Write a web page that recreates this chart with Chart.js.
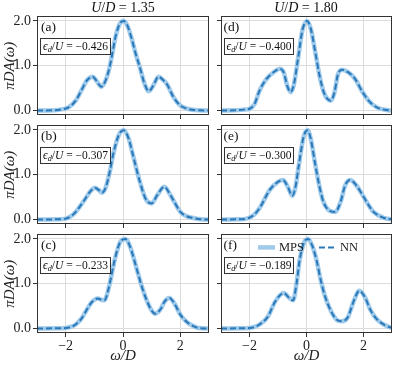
<!DOCTYPE html>
<html>
<head>
<meta charset="utf-8">
<script src="https://cdn.jsdelivr.net/npm/chart.js@4.4.1/dist/chart.umd.min.js"></script>
<style>
  html, body { margin: 0; padding: 0; background: #fff; }
  #fig { position: relative; width: 396px; height: 367px; overflow: hidden;
         font-family: "Liberation Serif", "Times New Roman", serif; color: #111; }
  #fig canvas { position: absolute; }
  .txt   { position: absolute; white-space: nowrap; line-height: 1; }
  .title { font-size: 14px; transform: translateX(-50%); }
  .tag   { font-size: 13.5px; }
  .box   { border: 1px solid #333; background: #fff; font-size: 11.5px;
           height: 15px; line-height: 15px; padding: 0 2px; }
  .box sub { font-size: 0.72em; line-height: 0; vertical-align: -0.3em; }
</style>
</head>
<body>
<div id="fig"></div>
<script>
// ─── Data ────────────────────────────────────────────────────────────────────
const X_TICKS   = [-2, 0, 2];
const Y_TICKS   = [0, 1, 2];
const SERIES    = ["MPS", "NN"];
const U_VALUES  = [1.35, 1.80];
const TAGS      = ["(a)", "(b)", "(c)", "(d)", "(e)", "(f)"];
const EPS_OVER_U = [-0.426, -0.307, -0.233, -0.400, -0.300, -0.189];

// (a)  U/D = 1.35, eps/U = -0.426
const OMEGA_A = [-3, -2.4, -2.1, -1.9, -1.65, -1.45, -1.25, -1.06, -0.9, -0.76, -0.62, -0.47, -0.24, -0.1, 0.02, 0.15, 0.29, 0.45, 0.59, 0.75, 0.9, 1.05, 1.24, 1.4, 1.53, 1.76, 2.0, 2.25, 2.5, 3];
const DOS_A   = [0, 0.005, 0.03, 0.07, 0.22, 0.45, 0.68, 0.755, 0.64, 0.53, 0.65, 0.96, 1.7, 1.95, 2.0, 1.9, 1.63, 1.25, 0.96, 0.6, 0.43, 0.55, 0.755, 0.68, 0.59, 0.3, 0.11, 0.04, 0.012, 0];
// (b)  U/D = 1.35, eps/U = -0.307
const OMEGA_B = [-3, -2.3, -2.0, -1.8, -1.65, -1.35, -1.15, -0.98, -0.85, -0.73, -0.6, -0.45, -0.35, -0.15, 0.02, 0.2, 0.35, 0.59, 0.8, 1.0, 1.2, 1.44, 1.65, 1.8, 2.0, 2.2, 2.41, 2.7, 3];
const DOS_B   = [0, 0.005, 0.02, 0.08, 0.17, 0.43, 0.62, 0.71, 0.66, 0.6, 0.72, 1.1, 1.43, 1.88, 1.99, 1.8, 1.43, 0.84, 0.45, 0.36, 0.55, 0.73, 0.55, 0.38, 0.17, 0.08, 0.04, 0.005, 0];
// (c)  U/D = 1.35, eps/U = -0.233
const OMEGA_C = [-3, -2.3, -2.0, -1.8, -1.65, -1.45, -1.29, -1.1, -0.88, -0.75, -0.65, -0.5, -0.29, -0.1, 0.08, 0.25, 0.47, 0.65, 0.82, 1.0, 1.12, 1.3, 1.45, 1.62, 1.8, 2.0, 2.2, 2.35, 2.65, 3];
const DOS_C   = [0, 0.005, 0.01, 0.04, 0.09, 0.22, 0.39, 0.58, 0.67, 0.64, 0.63, 0.9, 1.53, 1.93, 2.0, 1.82, 1.35, 0.95, 0.64, 0.4, 0.33, 0.42, 0.6, 0.68, 0.55, 0.31, 0.16, 0.09, 0.01, 0];
// (d)  U/D = 1.80, eps/U = -0.400
const OMEGA_D = [-3, -2.5, -2.2, -2.0, -1.82, -1.65, -1.41, -1.12, -0.94, -0.8, -0.68, -0.56, -0.45, -0.29, -0.14, 0.02, 0.16, 0.3, 0.45, 0.6, 0.72, 0.85, 0.98, 1.1, 1.24, 1.47, 1.71, 1.94, 2.18, 2.47, 2.82, 3];
const DOS_D   = [0, 0.005, 0.02, 0.04, 0.15, 0.44, 0.7, 0.87, 0.93, 0.85, 0.56, 0.41, 0.56, 1.19, 1.8, 2.0, 1.8, 1.33, 0.8, 0.42, 0.27, 0.22, 0.4, 0.8, 0.91, 0.85, 0.7, 0.44, 0.22, 0.07, 0.01, 0];
// (e)  U/D = 1.80, eps/U = -0.300
const OMEGA_E = [-3, -2.4, -2.1, -1.85, -1.65, -1.29, -1.0, -0.82, -0.65, -0.5, -0.38, -0.27, -0.1, 0.04, 0.15, 0.29, 0.45, 0.59, 0.8, 1.0, 1.2, 1.35, 1.53, 1.75, 2.0, 2.2, 2.35, 2.7, 3];
const DOS_E   = [0, 0.005, 0.02, 0.1, 0.25, 0.66, 0.84, 0.88, 0.72, 0.53, 0.75, 1.21, 1.85, 1.99, 1.8, 1.29, 0.75, 0.4, 0.2, 0.17, 0.4, 0.75, 0.88, 0.76, 0.51, 0.3, 0.17, 0.04, 0];
// (f)  U/D = 1.80, eps/U = -0.189
const OMEGA_F = [-3, -2.3, -2.0, -1.8, -1.65, -1.35, -1.1, -0.8, -0.6, -0.47, -0.35, -0.24, -0.08, 0.06, 0.2, 0.35, 0.5, 0.65, 0.85, 1.05, 1.24, 1.45, 1.65, 1.85, 2.05, 2.24, 2.45, 2.71, 3];
const DOS_F   = [0, 0.005, 0.01, 0.04, 0.09, 0.27, 0.6, 0.79, 0.68, 0.63, 1.0, 1.53, 1.93, 2.0, 1.85, 1.53, 1.08, 0.72, 0.4, 0.2, 0.16, 0.25, 0.6, 0.84, 0.7, 0.42, 0.22, 0.09, 0.01];

// MPS and NN coincide at this resolution, so both series read the same curve
const PANEL_DATA = [
    [OMEGA_A, DOS_A], [OMEGA_B, DOS_B], [OMEGA_C, DOS_C],
    [OMEGA_D, DOS_D], [OMEGA_E, DOS_E], [OMEGA_F, DOS_F],
];

// ─── Layout & styles ─────────────────────────────────────────────────────────
const COL_X     = [{ left: 0, width: 212, axisW: 37 }, { left: 212, width: 184, axisW: 9 }];
const ROW_TOP   = [16, 125, 234];   // top spine of each row
const PLOT_H    = 99;
const PAD_TOP   = 10;
const MPS_COLOR = "rgba(150,196,232,0.9)";
const NN_COLOR  = "#2a78b8";
const GRID      = "#dcdcdc";
const INK       = "#222";
const FONT      = "'Liberation Serif', 'Times New Roman', serif";

Chart.defaults.font.family = FONT;
Chart.defaults.font.size   = 14;
Chart.defaults.color       = INK;

const fmtMinus = v => (v < 0 ? "\u2212" + Math.abs(v) : String(v));

// frame on all four sides, like matplotlib spines
const framePlugin = {
    id: "frame",
    afterDraw(chart) {
        const { ctx, chartArea: a } = chart;
        ctx.save();
        ctx.strokeStyle = "#333";
        ctx.lineWidth = 1;
        ctx.strokeRect(Math.round(a.left) + 0.5, Math.round(a.top) + 0.5,
                       Math.round(a.right - a.left) - 1, Math.round(a.bottom - a.top) - 1);
        ctx.restore();
    },
};

// in-axes legend for panel (f)
const legendPlugin = {
    id: "inlegend",
    afterDraw(chart) {
        const { ctx, chartArea: a } = chart;
        const y = a.top + 13;
        const items = [{ x: 37, ds: chart.data.datasets[0] }, { x: 98, ds: chart.data.datasets[1] }];
        ctx.save();
        ctx.font = "12.5px " + FONT;
        ctx.textBaseline = "middle";
        ctx.fillStyle = INK;
        items.forEach(it => {
            ctx.beginPath();
            ctx.strokeStyle = it.ds.borderColor;
            ctx.lineWidth = it.ds.borderWidth;
            ctx.setLineDash(it.ds.borderDash || []);
            ctx.moveTo(a.left + it.x, y);
            ctx.lineTo(a.left + it.x + 17, y);
            ctx.stroke();
            ctx.setLineDash([]);
            ctx.fillText(it.ds.label, a.left + it.x + 21, y + 0.5);
        });
        ctx.restore();
    },
};

function makePanel(idx) {
    const col = Math.floor(idx / 3), row = idx % 3;
    const bottomRow = row === 2, leftCol = col === 0;
    const c = COL_X[col];
    const xAxisH = bottomRow ? 34 : 6;
    const padBottom = bottomRow ? 0 : 6;
    const top = ROW_TOP[row] - PAD_TOP;
    const height = PAD_TOP + PLOT_H + xAxisH + padBottom;

    const canvas = document.createElement("canvas");
    canvas.width = c.width;
    canvas.height = height;
    canvas.style.left = c.left + "px";
    canvas.style.top = top + "px";
    document.getElementById("fig").appendChild(canvas);

    const [omega, dos] = PANEL_DATA[idx];
    const points = () => omega.map((x, i) => ({ x, y: dos[i] }));

    new Chart(canvas, {
        type: "line",
        data: {
            datasets: [
                // higher order is drawn first, so NN's dashes sit on top of MPS
                { label: SERIES[0], data: points(), borderColor: MPS_COLOR, borderWidth: 4.5, order: 2,
                  pointRadius: 0, cubicInterpolationMode: "monotone", fill: false },
                { label: SERIES[1], data: points(), borderColor: NN_COLOR, borderWidth: 2, order: 1,
                  borderDash: [6, 3], pointRadius: 0, cubicInterpolationMode: "monotone", fill: false },
            ],
        },
        options: {
            responsive: false,
            animation: false,
            events: [],
            layout: { padding: { top: PAD_TOP, bottom: padBottom, left: 0, right: leftCol ? 3 : 4 } },
            plugins: { legend: { display: false }, tooltip: { enabled: false } },
            scales: {
                x: {
                    type: "linear", min: -3, max: 3,
                    afterBuildTicks: s => { s.ticks = X_TICKS.map(v => ({ value: v })); },
                    afterFit: s => { s.height = xAxisH; },
                    grid: { color: GRID, lineWidth: 1, tickLength: 4, tickColor: "#333" },
                    border: { display: false },
                    ticks: { padding: 1, maxRotation: 0, callback: v => (bottomRow ? fmtMinus(v) : "") },
                    title: { display: bottomRow, text: "ω/D", padding: { top: 0, bottom: 2 },
                             font: { size: 15, style: "italic" } },
                },
                y: {
                    type: "linear", min: -0.1, max: 2.1,
                    afterBuildTicks: s => { s.ticks = Y_TICKS.map(v => ({ value: v })); },
                    afterFit: s => { s.width = c.axisW; },
                    grid: { color: GRID, lineWidth: 1, tickLength: 4, tickColor: "#333" },
                    border: { display: false },
                    ticks: { padding: 2, callback: v => (leftCol ? v.toFixed(1) : "") },
                    title: { display: leftCol, text: "πDA(ω)", padding: 1,
                             font: { size: 15, style: "italic" } },
                },
            },
        },
        plugins: idx === 5 ? [framePlugin, legendPlugin] : [framePlugin],
    });
}

function addText(cls, html, left, top) {
    const d = document.createElement("div");
    d.className = "txt " + cls;
    d.innerHTML = html;
    d.style.left = left + "px";
    d.style.top = top + "px";
    document.getElementById("fig").appendChild(d);
}

// ─── Build figure ────────────────────────────────────────────────────────────
for (let i = 0; i < 6; i++) makePanel(i);

const TITLE_X = [123, 306];
U_VALUES.forEach((u, col) => {
    addText("title", `<i>U</i>/<i>D</i> = ${u.toFixed(2)}`, TITLE_X[col], 1);
});

const TAG_X = [41, 223.5], BOX_X = [40, 223.5];
const TAG_Y = [19.5, 129, 238], BOX_Y = [37.5, 146.5, 256.5];
TAGS.forEach((t, i) => {
    const col = Math.floor(i / 3), row = i % 3;
    addText("tag", t, TAG_X[col], TAG_Y[row]);
    const eps = EPS_OVER_U[i].toFixed(3).replace("-", "\u2212");
    addText("box", `<i>ϵ<sub>d</sub></i>/<i>U</i> = ${eps}`, BOX_X[col], BOX_Y[row]);
});
</script>
</body>
</html>
